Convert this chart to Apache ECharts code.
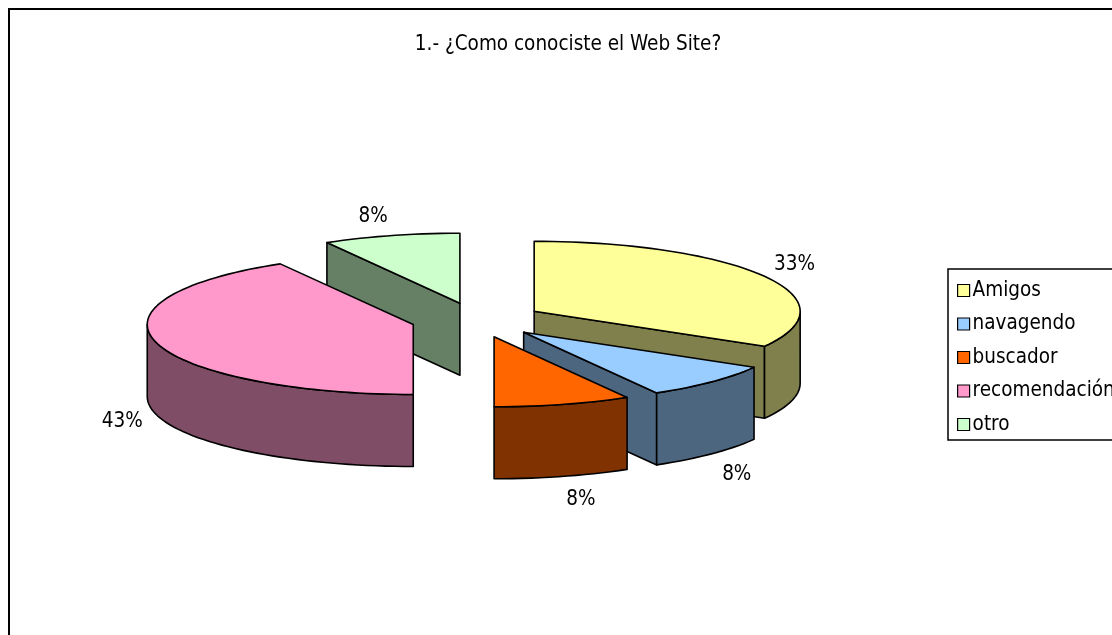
<!DOCTYPE html>
<html><head><meta charset="utf-8">
<style>html,body{margin:0;padding:0;background:#fff}#c{width:1112px;height:635px}</style>
<script src="https://cdn.jsdelivr.net/npm/echarts@6/dist/echarts.min.js"></script>
</head><body><div id="c"></div>
<script>
// Data
var categories = ['Amigos','navagendo','buscador','recomendación','otro'];
var responses = [4,1,1,5,1];                 // slice sizes as drawn (twelfths of the pie)
var percentLabels = ['33%','8%','8%','43%','8%'];
var chartTitle = '1.- ¿Como conociste el Web Site?';

// Style and layout
var topColors  = ['#FFFF99','#99CCFF','#FF6600','#FF99CC','#CCFFCC'];
var sideColors = ['#80804D','#4D6680','#803300','#804D66','#668066'];
var drawOrder = [4,3,0,1,2];                 // back to front
var PIE = {cx:477, cy:320, rx:266, ry:70, depth:72, explode:66};
var LABEL_NUDGE = [[30,-12],[25,21],[18,23],[-34,7],[-18,-19]];
var FONT = '"DejaVu Sans Condensed","DejaVu Sans",sans-serif';
var FONT_SIZE = 20.5;

var total = responses.reduce(function(a,b){return a+b;},0);
var starts = [], acc = 0;
responses.forEach(function(v){starts.push(acc/total*360); acc += v;});
function rad(d){return d*Math.PI/180;}
function pt(c,t,dz){return [c[0]+PIE.rx*Math.sin(rad(t)), c[1]-PIE.ry*Math.cos(rad(t))+(dz||0)];}
function arc(c,a,b,dz){var r=[],n=Math.max(2,Math.ceil((b-a)/2));for(var i=0;i<=n;i++)r.push(pt(c,a+(b-a)*i/n,dz));return r;}
var EDGE = {stroke:'#000',lineWidth:1.6,lineJoin:'round'};
function poly(points,fill){return {type:'polygon',shape:{points:points},style:Object.assign({fill:fill},EDGE)};}

function sliceSeries(idx){
  return {
    type:'custom', name:categories[idx], coordinateSystem:'none',
    itemStyle:{color:topColors[idx]},
    data:[{name:categories[idx],value:[responses[idx],starts[idx]]}],
    silent:true, animation:false,
    renderItem:function(params,api){
      var a=api.value(1), b=a+api.value(0)/total*360, m=(a+b)/2;
      var c=[PIE.cx+PIE.explode*Math.sin(rad(m)), PIE.cy-PIE.explode*PIE.ry/PIE.rx*Math.cos(rad(m))];
      var kids=[], side=sideColors[idx], d=PIE.depth;
      function wall(t){var p=pt(c,t);kids.push(poly([c,p,[p[0],p[1]+d],[c[0],c[1]+d]],side));}
      if(Math.sin(rad(a))<-1e-6) wall(a);
      if(Math.sin(rad(b))> 1e-6) wall(b);
      var ra=Math.max(a,90), rb=Math.min(b,270);
      if(rb>ra){kids.push(poly(arc(c,ra,rb,0).concat(arc(c,ra,rb,d).reverse()),side));}
      kids.push(poly([c].concat(arc(c,a,b,0)),topColors[idx]));
      var o=pt(c,m,Math.cos(rad(m))<0?d:0);
      kids.push({type:'text',style:{text:percentLabels[idx],x:o[0]+LABEL_NUDGE[idx][0],y:o[1]+LABEL_NUDGE[idx][1],
        align:'center',verticalAlign:'middle',fill:'#000',font:FONT_SIZE+'px '+FONT}});
      return {type:'group',children:kids};
    }
  };
}
var chart = echarts.init(document.getElementById('c'),null,{renderer:'canvas'});
chart.setOption({
  backgroundColor:'#fff', animation:false,
  title:{text:chartTitle,left:563,top:29,textAlign:'center',
    textStyle:{fontFamily:FONT,fontSize:FONT_SIZE,fontWeight:'normal',color:'#000'}},
  legend:{
    left:948,top:269,orient:'vertical',padding:[11,6,5,9],itemGap:12.5,itemWidth:12,itemHeight:12,icon:'rect',
    borderColor:'#000',borderWidth:1.5,backgroundColor:'#fff',
    itemStyle:{borderColor:'#000',borderWidth:1.2},
    textStyle:{fontFamily:FONT,fontSize:FONT_SIZE,color:'#000',padding:[0,0,0,-2]},
    selectedMode:false,
    data:categories.slice()
  },
  graphic:[{type:'rect',silent:true,z:-10,shape:{x:9,y:9,width:1200,height:700},
    style:{fill:'#fff',stroke:'#000',lineWidth:2}}],
  series:drawOrder.map(sliceSeries)
});
</script></body></html>
